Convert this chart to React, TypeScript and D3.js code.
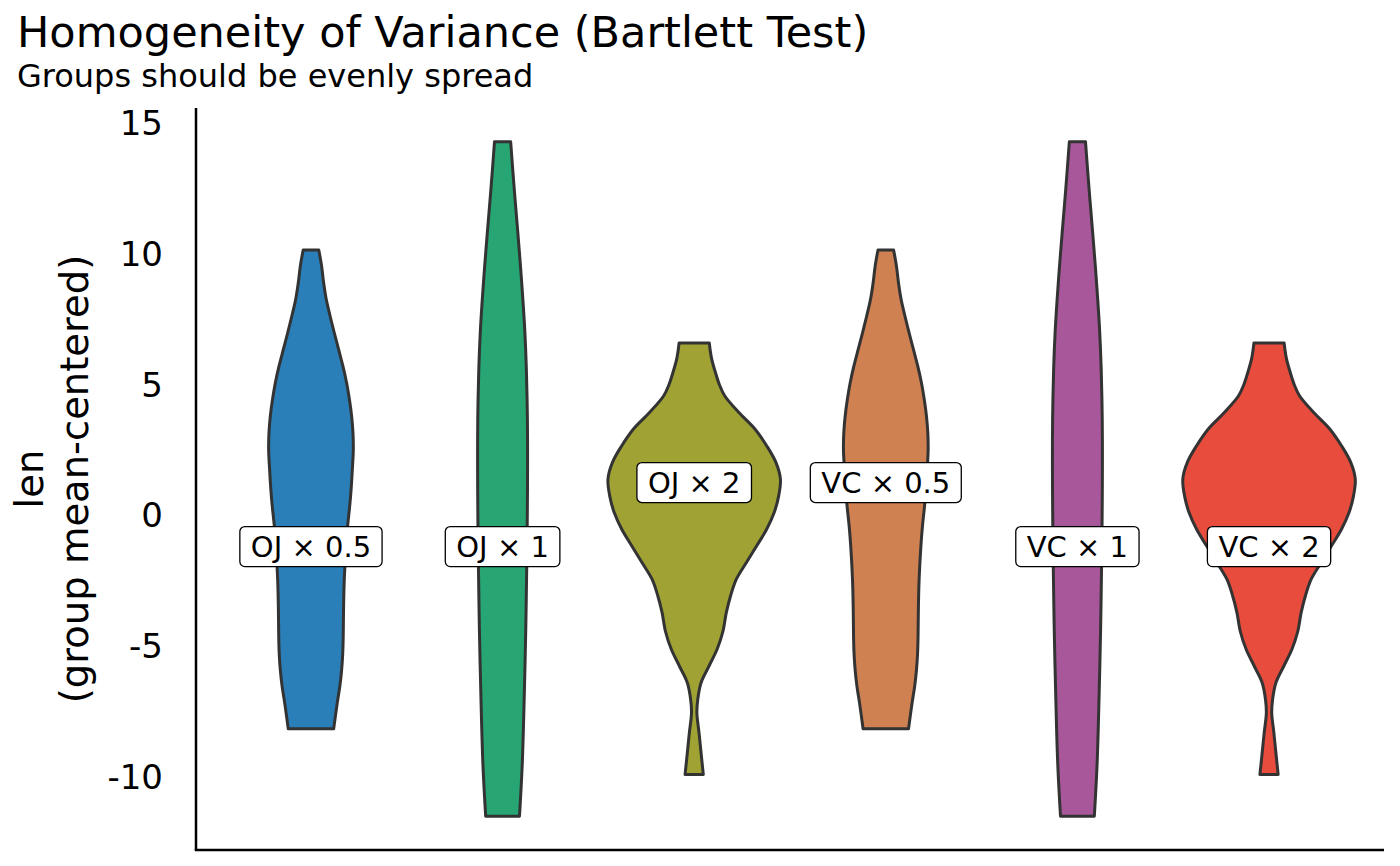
import { useRef, useEffect } from "react";
import * as d3 from "d3";

// groups, in plotting order
const groups = ["OJ × 0.5", "OJ × 1", "OJ × 2", "VC × 0.5", "VC × 1", "VC × 2"];
const groupColors = ["#2a7fb8", "#27a673", "#a0a334", "#cf8152", "#a8579a", "#e74c3d"];
const labelY = [-1.2, -1.2, 1.25, 1.25, -1.2, -1.2];

// [len (mean-centered), density]
const densityDoseHalf: [number, number][] = [
  [10.15, 0.09], [9.55, 0.122], [8.92, 0.145], [8.28, 0.175], [7.64, 0.219],
  [7.0, 0.267], [6.36, 0.317], [5.72, 0.367], [5.08, 0.41], [4.44, 0.443],
  [3.81, 0.468], [3.17, 0.484], [2.5, 0.488], [1.76, 0.477], [1.0, 0.463],
  [0.3, 0.445], [-0.4, 0.423], [-1.2, 0.404], [-2.45, 0.384], [-3.5, 0.376],
  [-4.6, 0.372], [-5.3, 0.366], [-5.9, 0.354], [-6.54, 0.333], [-7.18, 0.303],
  [-8.17, 0.262],
];
const densityDoseOne: [number, number][] = [
  [14.29, 0.093], [12.5, 0.134], [10.8, 0.176], [9.5, 0.207], [8.2, 0.235],
  [7.0, 0.257], [5.6, 0.274], [3.7, 0.286], [1.9, 0.288], [0, 0.285],
  [-1.8, 0.279], [-4.4, 0.267], [-6.9, 0.25], [-9.5, 0.227], [-11.52, 0.195],
];
const densityDoseTwo: [number, number][] = [
  [6.59, 0.174], [6.0, 0.2], [5.47, 0.244], [5.0, 0.29], [4.57, 0.351],
  [3.93, 0.515], [3.3, 0.7], [2.66, 0.835], [2.02, 0.942], [1.38, 0.994],
  [0.74, 0.974], [0.1, 0.922], [-0.54, 0.835], [-1.18, 0.719], [-1.81, 0.602],
  [-2.45, 0.486], [-3.09, 0.419], [-3.73, 0.37], [-4.45, 0.331], [-5.13, 0.264],
  [-5.77, 0.171], [-6.41, 0.079], [-7.05, 0.041], [-7.56, 0.031], [-8.33, 0.056],
  [-9.09, 0.079], [-9.92, 0.105],
];
const groupDensities = [
  densityDoseHalf, densityDoseOne, densityDoseTwo,
  densityDoseHalf, densityDoseOne, densityDoseTwo,
];

const width = 1400;
const height = 866;
const font = "DejaVu Sans";

export default function App() {
  const svgRef = useRef(null);

  function renderChart() {
    const svg = d3.select(svgRef.current);
    svg.selectAll("*").remove();

    const left = 196, right = 1384, top = 108, bottom = 850;

    const all = groupDensities.flat();
    const yExt = d3.extent(all, (d) => d[0]) as [number, number];
    const pad = (yExt[1] - yExt[0]) * 0.05;
    const y = d3.scaleLinear().domain([yExt[0] - pad, yExt[1] + pad]).range([bottom, top]);

    const x = d3.scalePoint().domain(groups).range([left, right]).padding(0.6);
    const maxDensity = d3.max(all, (d) => d[1]) as number;
    const w = d3.scaleLinear().domain([0, maxDensity]).range([0, x.step() * 0.45]);

    // title
    svg.append("text").text("Homogeneity of Variance (Bartlett Test)")
      .attr("x", 17).attr("y", 47)
      .attr("font-family", font).attr("font-size", 43);
    svg.append("text").text("Groups should be evenly spread")
      .attr("x", 17).attr("y", 87)
      .attr("font-family", font).attr("font-size", 32);

    // violins
    groups.forEach((g, i) => {
      const cx = x(g) as number;
      const area = d3.area<[number, number]>()
        .y((d) => y(d[0]))
        .x0((d) => cx - w(d[1]))
        .x1((d) => cx + w(d[1]))
        .curve(d3.curveCatmullRom.alpha(0.5));
      svg.append("path")
        .attr("d", area(groupDensities[i]))
        .attr("fill", groupColors[i])
        .attr("stroke", "#333333")
        .attr("stroke-width", 3)
        .attr("stroke-linejoin", "round");
    });

    // labels
    groups.forEach((g, i) => {
      const cx = x(g) as number;
      const cy = y(labelY[i]);
      const lg = svg.append("g");
      const rect = lg.append("rect");
      const txt = lg.append("text").text(g)
        .attr("x", cx).attr("y", cy)
        .attr("text-anchor", "middle")
        .attr("dominant-baseline", "central")
        .attr("font-family", font).attr("font-size", 29);
      const tw = (txt.node() as SVGTextElement).getComputedTextLength();
      rect.attr("x", cx - tw / 2 - 11).attr("y", cy - 20)
        .attr("width", tw + 22).attr("height", 40)
        .attr("rx", 5).attr("ry", 5)
        .attr("fill", "white").attr("stroke", "black").attr("stroke-width", 1.3);
    });

    // axes
    svg.append("line").attr("x1", left).attr("x2", left).attr("y1", top).attr("y2", bottom)
      .attr("stroke", "black").attr("stroke-width", 2.5);
    svg.append("line").attr("x1", left - 1.25).attr("x2", right).attr("y1", bottom).attr("y2", bottom)
      .attr("stroke", "black").attr("stroke-width", 2.5);

    svg.append("g").selectAll("text").data(y.ticks(5)).join("text")
      .text((d) => String(d))
      .attr("x", 163).attr("y", (d) => y(d))
      .attr("text-anchor", "end").attr("dominant-baseline", "central")
      .attr("font-family", font).attr("font-size", 34);

    const cy = (top + bottom) / 2;
    const yl = svg.append("text")
      .attr("transform", `translate(0,${cy}) rotate(-90)`)
      .attr("text-anchor", "middle")
      .attr("font-family", font).attr("font-size", 38.5);
    yl.append("tspan").attr("x", 0).attr("y", 43).text("len");
    yl.append("tspan").attr("x", 0).attr("y", 88).text("(group mean-centered)");
  }

  useEffect(() => {
    renderChart();
  }, []);

  return (
    <div style={{ position: "absolute", left: 0, top: 0 }}>
      <svg ref={svgRef} width={width} height={height} style={{ display: "block", background: "white" }} />
    </div>
  );
}
